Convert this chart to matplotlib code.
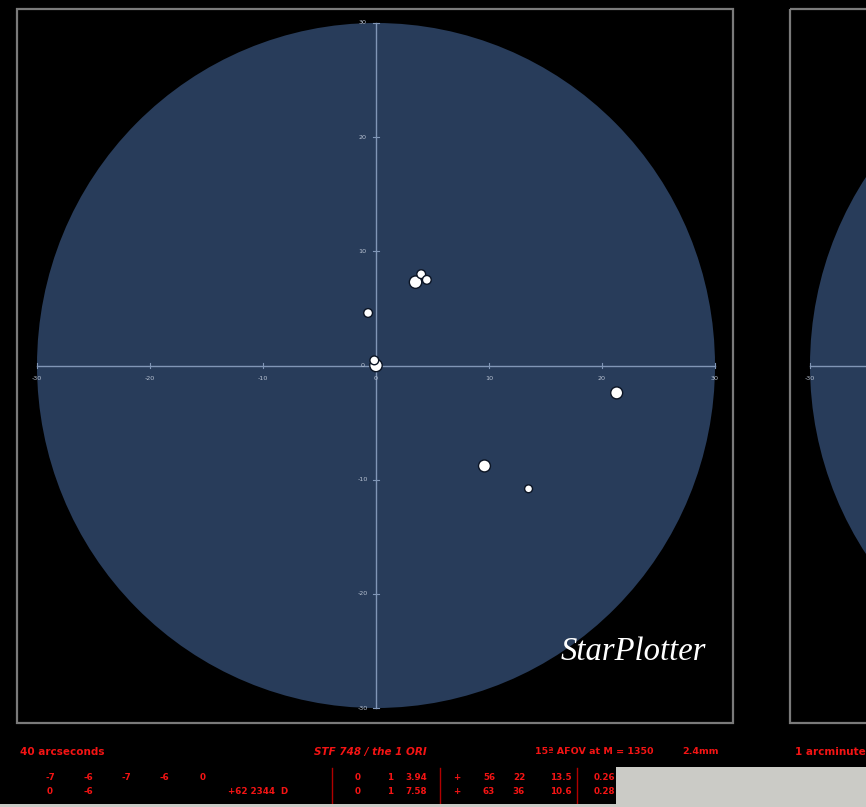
import matplotlib
matplotlib.use("Agg")
import matplotlib.pyplot as plt
from matplotlib.patches import Circle, Rectangle

# ---- data -------------------------------------------------------------
tick_values = [-30, -20, -10, 0, 10, 20, 30]
field_radius = 30

star_x = [0.0, -0.15, -0.7, 3.5, 4.0, 4.5, 21.3, 9.6, 13.5]
star_y = [0.0, 0.45, 4.6, 7.3, 8.0, 7.5, -2.4, -8.8, -10.8]
star_size = [80, 40, 40, 80, 40, 40, 74, 74, 32]

scale_left = "40 arcseconds"
pair_name = "STF 748 / the 1 ORI"
afov_text = "15\u00aa AFOV at M = 1350"
exit_pupil = "2.4mm"
scale_right = "1 arcminute"

table_left = [
    ["-7", "-6", "-7", "-6", "0"],
    ["0", "-6", "", "", ""],
]
table_ids = ["", "+62 2344  D"]
table_right = [
    ["0", "1", "3.94", "+", "56", "22", "13.5", "0.26"],
    ["0", "1", "7.58", "+", "63", "36", "10.6", "0.28"],
]

# ---- styling ----------------------------------------------------------
W, H = 866, 807
DISK = "#283c5a"
AXIS = "#8196b6"
LABEL = "#b9c3d3"
FRAME = "#7a7a7a"
RED = "#f41414"
PANEL = "#cbcbc6"

fig = plt.figure(figsize=(W / 100, H / 100), dpi=100, facecolor="black")


def px_axes(x0, x1, ytop, ybot):
    return fig.add_axes([x0 / W, (H - ybot) / H, (x1 - x0) / W, (ybot - ytop) / H])


def draw_field(ax, show_stars, x_labels, y_labels):
    ax.set_xlim(-field_radius, field_radius)
    ax.set_ylim(-field_radius, field_radius)
    ax.set_facecolor("none")
    ax.axis("off")
    ax.add_patch(Circle((0, 0), field_radius, facecolor=DISK, edgecolor="none",
                        zorder=1, clip_on=False))
    ax.plot([-30, 30], [0, 0], color=AXIS, lw=1.0, zorder=2, clip_on=False)
    ax.plot([0, 0], [-30, 30], color=AXIS, lw=1.0, zorder=2, clip_on=False)
    for t in tick_values:
        ax.plot([t, t], [-0.25, 0.25], color=AXIS, lw=0.8, zorder=2, clip_on=False)
        ax.plot([-0.25, 0.25], [t, t], color=AXIS, lw=0.8, zorder=2, clip_on=False)
    for t in x_labels:
        ax.text(t, -1.15, f"{t}", color=LABEL, fontsize=4.6, ha="center",
                va="center", zorder=3)
    for t in y_labels:
        ax.text(-1.2, t, f"{t}", color=LABEL, fontsize=4.6, ha="center",
                va="center", zorder=3)
    if show_stars:
        ax.scatter(star_x, star_y, s=star_size, c="white", edgecolors="#0b1424",
                   linewidths=1.0, zorder=4, clip_on=False)


# left panel: -30..30 spans x 37..715, y 23..708 (pixels from the top)
ax1 = px_axes(37, 715, 23, 708)
draw_field(ax1, True, tick_values, tick_values)

# right panel, mostly beyond the right edge of the figure
ax2 = px_axes(810, 810 + 678, 23, 708)
draw_field(ax2, False, tick_values[:1], [])

# ---- overlay in pixel coordinates ----------------------------------------
ov = fig.add_axes([0, 0, 1, 1], zorder=10)
ov.set_xlim(0, W)
ov.set_ylim(H, 0)
ov.axis("off")
ov.patch.set_visible(False)

ov.add_patch(Rectangle((17, 9), 716, 714, facecolor="none", edgecolor=FRAME, lw=1.6))
ov.add_patch(Rectangle((790, 9), 716, 714, facecolor="none", edgecolor=FRAME, lw=1.6))

ov.text(706, 652, "StarPlotter", color="white", fontsize=23.5, ha="right",
        va="center", family="Liberation Serif", style="italic")

hdr = dict(color=RED, fontsize=7.5, fontweight="bold", va="center")
ov.text(20, 752, scale_left, ha="left", **hdr)
ov.text(370, 752, pair_name, ha="center", style="italic", **hdr)
ov.text(535, 752, afov_text, ha="left", **{**hdr, "fontsize": 6.8})
ov.text(682, 752, exit_pupil, ha="left", **{**hdr, "fontsize": 6.8})
ov.text(795, 752, scale_right, ha="left", **hdr)

row_y = [777, 792]
left_cols = [50, 88, 126, 164, 203]
right_cols = [358, 390, 427, 457, 489, 519, 572, 615]
right_align = ["center", "center", "right", "center", "center", "center", "right", "right"]
cell = dict(color=RED, fontsize=6.3, fontweight="bold", va="center")
for r, yy in enumerate(row_y):
    for c, xx in enumerate(left_cols):
        ov.text(xx, yy, table_left[r][c], ha="center", **cell)
    ov.text(288, yy, table_ids[r], ha="right", **cell)
    for c, xx in enumerate(right_cols):
        ov.text(xx, yy, table_right[r][c], ha=right_align[c], **cell)

for bx in (332, 440, 577):
    ov.plot([bx, bx], [768, 807], color="#b00000", lw=1.0)

# light panel over the lower right corner and the bottom strip
ov.add_patch(Rectangle((616, 767), 250, 40, facecolor=PANEL, edgecolor="none", zorder=5))
ov.add_patch(Rectangle((0, 804), W, 3, facecolor=PANEL, edgecolor="none", zorder=5))

fig.savefig("out.png", dpi=100, facecolor="black")
